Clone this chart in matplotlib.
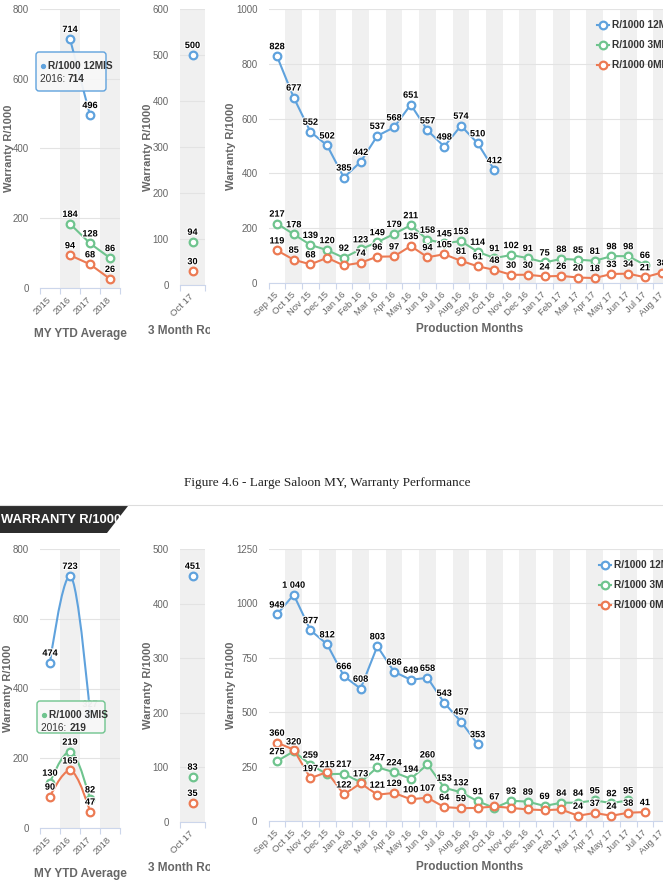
import numpy as np
import matplotlib
matplotlib.use('Agg')
import matplotlib.pyplot as plt
import matplotlib.patheffects as pe
from matplotlib.lines import Line2D
from matplotlib.patches import Polygon, FancyBboxPatch, PathPatch
from matplotlib.path import Path
from matplotlib.text import Annotation
from matplotlib.transforms import Bbox, TransformedBbox

nan = np.nan
W, H = 663, 882

NARROW = ['Liberation Sans Narrow', 'Liberation Sans', 'DejaVu Sans']
SANS = ['Liberation Sans', 'DejaVu Sans']
plt.rcParams['font.family'] = NARROW

NAMES = ['R/1000 12MIS', 'R/1000 3MIS', 'R/1000 0MIS']
COLORS = ['#5fa2dd', '#6fc48e', '#ec7a53']
BAND = '#f0f0f0'
GRID = '#e3e3e3'
AXIS = '#ccd6eb'
TXT = '#666666'

# categories
my_years = ['2015', '2016', '2017', '2018']
roll_month = ['Oct 17']
prod_months = ['Sep 15', 'Oct 15', 'Nov 15', 'Dec 15', 'Jan 16', 'Feb 16', 'Mar 16', 'Apr 16',
               'May 16', 'Jun 16', 'Jul 16', 'Aug 16', 'Sep 16', 'Oct 16', 'Nov 16', 'Dec 16',
               'Jan 17', 'Feb 17', 'Mar 17', 'Apr 17', 'May 17', 'Jun 17', 'Jul 17', 'Aug 17']

# upper chart (carried over from previous page)
top_ytd_12 = [nan, 714, 496, nan]
top_ytd_3 = [nan, 184, 128, 86]
top_ytd_0 = [nan, 94, 68, 26]
top_roll_12 = [500]
top_roll_3 = [94]
top_roll_0 = [30]
top_prod_12 = [828, 677, 552, 502, 385, 442, 537, 568, 651, 557, 498, 574, 510, 412]
top_prod_3 = [217, 178, 139, 120, 92, 123, 149, 179, 211, 158, 145, 153, 114, 91, 102, 91,
              75, 88, 85, 81, 98, 98, 66]
top_prod_0 = [119, 85, 68, 92, 64, 74, 96, 97, 135, 94, 105, 81, 61, 48, 30, 30,
              24, 26, 20, 18, 33, 34, 21, 38]
top_prod_0_hidden = [3, 4]  # labels hidden by overlap

# lower chart (Figure 4.6 - Large Saloon MY)
bot_ytd_12 = [474, 723, 327, nan]
bot_ytd_3 = [130, 219, 82, nan]
bot_ytd_0 = [90, 165, 47, nan]
bot_roll_12 = [451]
bot_roll_3 = [83]
bot_roll_0 = [35]
bot_prod_12 = [949, 1040, 877, 812, 666, 608, 803, 686, 649, 658, 543, 457, 353]
bot_prod_3 = [275, 320, 259, 215, 217, 178, 247, 224, 194, 260, 153, 132, 91, 60, 93, 89,
              69, 84, 84, 95, 82, 95]
bot_prod_0 = [360, 328, 197, 225, 122, 173, 121, 129, 100, 107, 64, 59, 60, 67, 60, 53,
              50, 53, 24, 37, 24, 38, 41]
bot_prod_3_hidden = [5, 13]
bot_prod_0_hidden = [1, 3, 12, 14, 15, 16, 17]

fig = plt.figure(figsize=(W / 100, H / 100), dpi=100)


def P(x, y):
    # pixel (from top-left) -> figure fraction
    return x / W, 1 - y / H


def fmt(v):
    return '{:,}'.format(int(round(v))).replace(',', ' ')


def spline_path(x, y, smoothing=1.5):
    # highcharts style spline control points
    n = len(x)
    d = smoothing + 1
    conts = []
    for i in range(n):
        if 0 < i < n - 1:
            lcx = (smoothing * x[i] + x[i - 1]) / d
            lcy = (smoothing * y[i] + y[i - 1]) / d
            rcx = (smoothing * x[i] + x[i + 1]) / d
            rcy = (smoothing * y[i] + y[i + 1]) / d
            corr = (rcy - lcy) * (rcx - x[i]) / (rcx - lcx) + y[i] - rcy
            lcy += corr
            rcy += corr
            if lcy > max(y[i - 1], y[i]):
                lcy = max(y[i - 1], y[i])
                rcy = 2 * y[i] - lcy
            elif lcy < min(y[i - 1], y[i]):
                lcy = min(y[i - 1], y[i])
                rcy = 2 * y[i] - lcy
            if rcy > max(y[i + 1], y[i]):
                rcy = max(y[i + 1], y[i])
                lcy = 2 * y[i] - rcy
            elif rcy < min(y[i + 1], y[i]):
                rcy = min(y[i + 1], y[i])
                lcy = 2 * y[i] - rcy
        else:
            lcx, lcy, rcx, rcy = x[i], y[i], x[i], y[i]
        conts.append((lcx, lcy, rcx, rcy))
    verts = [(x[0], y[0])]
    codes = [Path.MOVETO]
    for i in range(1, n):
        verts += [(conts[i - 1][2], conts[i - 1][3]), (conts[i][0], conts[i][1]), (x[i], y[i])]
        codes += [Path.CURVE4] * 3
    return Path(verts, codes)


def draw_series(ax, vals, color, hidden=(), spline=False, faded=()):
    y = np.array(vals, dtype=float)
    x = np.arange(len(y))
    mk = dict(marker='o', ms=5.5, mfc='white', mec=color, mew=1.6)
    if spline:
        ok = ~np.isnan(y)
        ax.add_patch(PathPatch(spline_path(x[ok], y[ok]), fill=False, ec=color, lw=1.5, zorder=3))
        ax.plot(x, y, ls='none', zorder=3, **mk)
    else:
        ax.plot(x, y, color=color, lw=1.5, zorder=3, **mk)
    for i, v in enumerate(y):
        if np.isnan(v) or i in hidden:
            continue
        ax.annotate(fmt(v), (i, v), xytext=(0, 6.8), textcoords='offset points', ha='center',
                    va='center', fontsize=6.6, fontweight='bold', color='black',
                    alpha=0.45 if i in faded else 1, annotation_clip=False, zorder=6,
                    path_effects=[pe.withStroke(linewidth=1.6, foreground='white')])


def draw_panel(x0, x1, ytop, ybot, cats, bands, ymax, ystep, series, ylab_x, xlab,
               hidden=None, spline=False, faded=None, clip_label=None):
    ax = fig.add_axes([x0 / W, 1 - ybot / H, (x1 - x0) / W, (ybot - ytop) / H])
    n = len(cats)
    ax.set_xlim(-0.5, n - 0.5)
    ax.set_ylim(0, ymax)
    for i in bands:
        ax.axvspan(i - 0.5, i + 0.5, color=BAND, lw=0, zorder=0)
    ax.set_yticks(np.arange(0, ymax + 1, ystep))
    ax.yaxis.grid(True, color=GRID, lw=0.8)
    ax.set_axisbelow(True)
    for s in ['left', 'right', 'top']:
        ax.spines[s].set_visible(False)
    ax.spines['bottom'].set_color(AXIS)
    ax.spines['bottom'].set_zorder(2.5)
    ax.tick_params(axis='y', length=0, pad=8, labelsize=7, labelcolor=TXT)
    ax.set_xticks(range(n))
    ax.set_xticklabels(cats, rotation=45, ha='right', va='center', rotation_mode='anchor',
                       fontsize=6.8, color=TXT)
    ax.tick_params(axis='x', which='major', length=0, pad=7.5)
    ax.set_xticks(np.arange(-0.5, n), minor=True)
    ax.tick_params(axis='x', which='minor', length=4, color=AXIS, width=0.8)
    hidden = hidden or {}
    faded = faded or {}
    for k, vals in enumerate(series):
        draw_series(ax, vals, COLORS[k], hidden.get(k, ()), spline, faded.get(k, ()))
    fig.text(*P(ylab_x, (ytop + ybot) / 2), 'Warranty R/1000', rotation=90, ha='center',
             va='center', family=SANS, fontsize=8, fontweight='bold', color=TXT)
    t = fig.text(*P((x0 + x1) / 2, ybot + 46), xlab, ha='center', va='center', fontsize=8.5,
                 fontweight='bold', color=TXT)
    if clip_label is not None:
        t.set_clip_box(TransformedBbox(Bbox.from_extents(0, 0, clip_label / W, 1), fig.transFigure))
        t.set_clip_on(True)
    return ax


def legend(x, ys):
    for k, yy in enumerate(ys):
        fig.add_artist(Line2D([(x - 6) / W, x / W, (x + 6) / W], [1 - yy / H] * 3, color=COLORS[k],
                              lw=1.5, marker='o', ms=5.5, mfc='white', mec=COLORS[k], mew=1.6,
                              markevery=[1], transform=fig.transFigure, zorder=8))
        fig.text(*P(x + 9, yy), NAMES[k], ha='left', va='center', fontsize=7.3,
                 fontweight='bold', color='#333333', zorder=8)


def tooltip(x0, y0, x1, y1, color, name, cat, val):
    fig.add_artist(FancyBboxPatch((x0 / 100, (H - y1) / 100), (x1 - x0) / 100, (y1 - y0) / 100,
                                  boxstyle='round,pad=0,rounding_size=0.03',
                                  transform=fig.dpi_scale_trans, fc=(0.97, 0.97, 0.97, 0.93),
                                  ec=color, lw=1, zorder=20))
    fig.add_artist(Line2D([(x0 + 7) / W], [1 - (y0 + 14) / H], ls='none', marker='o', ms=2.8,
                          color=color, transform=fig.transFigure, zorder=21))
    fig.text(*P(x0 + 12, y0 + 14), name, ha='left', va='center', fontsize=7.3,
             fontweight='bold', color='#333333', zorder=21)
    t = fig.text(*P(x0 + 4, y0 + 27), cat + ': ', ha='left', va='center', fontsize=7.3,
                 color='#333333', zorder=21)
    fig.add_artist(Annotation(fmt(val), xy=(1, 0.5), xycoords=t, ha='left', va='center',
                              fontsize=7.3, fontweight='bold', color='#333333', zorder=21))


# ---- upper chart ----
draw_panel(40, 120, 9, 288, my_years, [1, 3], 800, 200, [top_ytd_12, top_ytd_3, top_ytd_0],
           9, 'MY YTD Average')
draw_panel(180, 205, 9, 285, roll_month, [0], 600, 100, [top_roll_12, top_roll_3, top_roll_0],
           148, '3 Month Rolling', clip_label=210)
draw_panel(268.6, 670, 9, 283, prod_months, range(1, 24, 2), 1000, 200,
           [top_prod_12, top_prod_3, top_prod_0], 231, 'Production Months',
           hidden={2: top_prod_0_hidden})
legend(603, [25, 45, 65])
tooltip(36, 52, 106, 91, COLORS[0], NAMES[0], my_years[1], top_ytd_12[1])

# ---- caption / section header ----
fig.text(*P(327, 483), 'Figure 4.6 - Large Saloon MY, Warranty Performance', ha='center',
         va='center', family=['Liberation Serif', 'DejaVu Serif'], fontsize=9.5, color='#222222')
fig.add_artist(Line2D([0, 1], [1 - 505 / H] * 2, color='#dddddd', lw=0.8, transform=fig.transFigure))
fig.add_artist(Polygon([P(0, 506), P(128, 506), P(107, 533), P(0, 533)], closed=True,
                       fc='#2d2d2d', ec='none', transform=fig.transFigure))
fig.text(*P(1, 520), 'WARRANTY R/1000', ha='left', va='center', fontsize=9.4,
         fontweight='bold', color='white')

# ---- lower chart ----
draw_panel(40, 120, 549, 828, my_years, [1, 3], 800, 200, [bot_ytd_12, bot_ytd_3, bot_ytd_0],
           8, 'MY YTD Average', spline=True, faded={0: [2]})
draw_panel(180, 205, 549, 822, roll_month, [0], 500, 100, [bot_roll_12, bot_roll_3, bot_roll_0],
           148, '3 Month Rolling', clip_label=210)
draw_panel(268.6, 670, 549, 821, prod_months, range(1, 24, 2), 1250, 250,
           [bot_prod_12, bot_prod_3, bot_prod_0], 231, 'Production Months',
           hidden={1: bot_prod_3_hidden, 2: bot_prod_0_hidden})
legend(605, [565, 585, 605])
tooltip(37, 701, 105, 733, COLORS[1], NAMES[1], my_years[1], bot_ytd_3[1])

fig.savefig('out.png', dpi=100)
